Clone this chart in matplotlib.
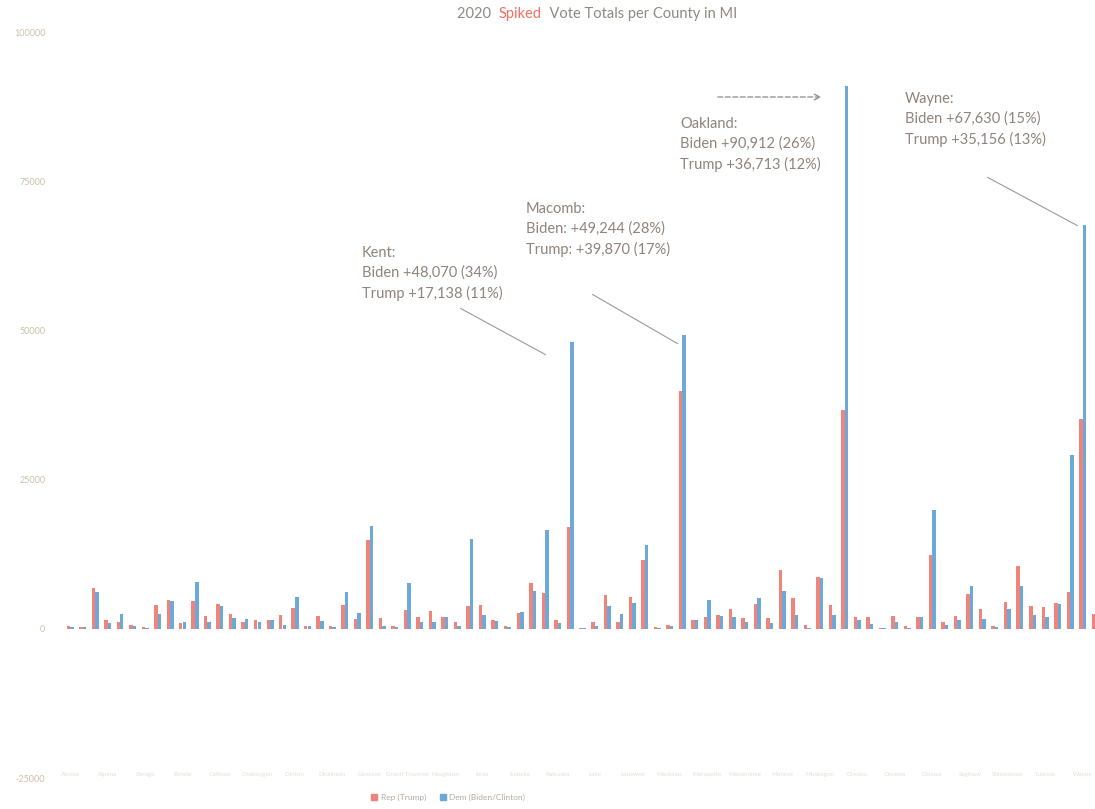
import numpy as np
import matplotlib
matplotlib.use("Agg")
import matplotlib.pyplot as plt
from matplotlib.lines import Line2D

# county order as in the source sheet
counties = ["Alcona", "Alger", "Allegan", "Alpena", "Antrim", "Arenac", "Baraga", "Barry",
            "Bay", "Benzie", "Berrien", "Branch", "Calhoun", "Cass", "Charlevoix", "Cheboygan",
            "Chippewa", "Clare", "Clinton", "Crawford", "Delta", "Dickinson", "Eaton", "Emmet",
            "Genesee", "Gladwin", "Gogebic", "Grand Traverse", "Gratiot", "Hillsdale", "Houghton",
            "Huron", "Ingham", "Ionia", "Iosco", "Iron", "Isabella", "Jackson", "Kalamazoo",
            "Kalkaska", "Kent", "Keweenaw", "Lake", "Lapeer", "Leelanau", "Lenawee", "Livingston",
            "Luce", "Mackinac", "Macomb", "Manistee", "Marquette", "Mason", "Mecosta", "Menominee",
            "Midland", "Missaukee", "Monroe", "Montcalm", "Montmorency", "Muskegon", "Newaygo",
            "Oakland", "Oceana", "Ogemaw", "Ontonagon", "Osceola", "Oscoda", "Otsego", "Ottawa",
            "Presque Isle", "Roscommon", "Saginaw", "Sanilac", "Schoolcraft", "Shiawassee",
            "St. Clair", "St. Joseph", "Tuscola", "Van Buren", "Washtenaw", "Wayne", "Wexford"]

rep_gain = [500, 350, 6900, 1400, 1200, 700, 300, 4000, 4750, 1000, 4600, 2100, 4100, 2450,
            1100, 1400, 1550, 2350, 3500, 550, 2100, 500, 4000, 1700, 14800, 1850, 400, 3070,
            2050, 2900, 1950, 1200, 3750, 4000, 1550, 400, 2650, 7700, 6000, 1550, 17138, 150,
            1100, 5700, 1200, 5300, 11450, 300, 700, 39870, 1550, 1950, 2250, 3350, 1800, 4200,
            1800, 9800, 5200, 600, 8700, 4000, 36713, 2050, 1950, 200, 2100, 500, 1950, 12300,
            1200, 2100, 5900, 3300, 400, 4500, 10600, 3800, 3650, 4350, 6250, 35156, 2400]

dem_gain = [300, 250, 6100, 1000, 2500, 400, 200, 2400, 4700, 1200, 7800, 1150, 3800, 1850,
            1700, 1200, 1400, 700, 5400, 500, 1250, 350, 6250, 2650, 17150, 550, 300, 7700,
            1200, 1200, 1900, 550, 15100, 2350, 1300, 300, 2800, 6300, 16500, 1000, 48070, 100,
            550, 3900, 2500, 4350, 14000, 150, 500, 49244, 1400, 4750, 2100, 1950, 1200, 5150,
            1000, 6400, 2250, 200, 8500, 2250, 90912, 1400, 850, 100, 1200, 200, 1950, 19850,
            650, 1550, 7100, 1700, 250, 3250, 7250, 2350, 1950, 4200, 29100, 67630, 1400]

yticks = [-25000, 0, 25000, 50000, 75000, 100000]

notes = {
    "Kent": "Kent:\nBiden +48,070 (34%)\nTrump +17,138 (11%)",
    "Macomb": "Macomb:\nBiden: +49,244 (28%)\nTrump: +39,870 (17%)",
    "Oakland": "Oakland:\nBiden +90,912 (26%)\nTrump +36,713 (12%)",
    "Wayne": "Wayne:\nBiden +67,630 (15%)\nTrump +35,156 (13%)",
}

plt.rcParams['font.family'] = ['Lato', 'DejaVu Sans']

red = '#f0837a'
blue = '#6ca8d8'
note_col = '#8f837c'

W, H = 1095, 809
fig = plt.figure(figsize=(W / 100, H / 100), dpi=100)
ax = fig.add_axes([55 / W, 1 - 778 / H, 1040 / W, (778 - 32) / H])

x = np.arange(len(counties))
bw = 0.28
ax.bar(x - bw / 2, rep_gain, bw, color=red, label='Rep (Trump)')
ax.bar(x + bw / 2, dem_gain, bw, color=blue, label='Dem (Biden/Clinton)')

ax.set_xlim(-1.2, 82.0)
ax.set_ylim(-25000, 100000)
ax.set_yticks(yticks)
ax.set_yticklabels([str(v) for v in yticks])
ax.tick_params(axis='y', length=0, labelsize=6.5, labelcolor='#cdc0aa', pad=7)
ax.set_xticks(x[::3])
ax.set_xticklabels(counties[::3], fontsize=4.5, color='#e4ded8')
ax.tick_params(axis='x', length=0, pad=-4)
for s in ax.spines.values():
    s.set_visible(False)

# title with the coloured word
t1 = ax.text(457 / W, 1 - 14 / H, "2020  ", transform=fig.transFigure, va='center',
             ha='left', fontsize=10.5, color='#8f8883')
t2 = ax.annotate("Spiked", xy=(1, 0), xycoords=t1, va='bottom', ha='left',
                 fontsize=10.5, color='#f2705f', annotation_clip=False)
ax.annotate("  Vote Totals per County in MI", xy=(1, 0), xycoords=t2, va='bottom',
            ha='left', fontsize=10.5, color='#8f8883', annotation_clip=False)

# callouts (figure pixel positions)
def fp(px, py):
    return (px, H - py)

text_pos = {"Kent": (362, 246), "Macomb": (526, 202), "Oakland": (680, 117), "Wayne": (905, 92)}
for name, (px, py) in text_pos.items():
    fig.text(px / W, 1 - py / H, notes[name], ha='left', va='top', fontsize=10.5,
             linespacing=1.5, color=note_col)

lines = [((458, 307), (548, 356)), ((590, 293), (680, 345)), ((985, 176), (1080, 227))]
for a, b in lines:
    ax.annotate('', xy=fp(*b), xycoords='figure pixels', xytext=fp(*a),
                textcoords='figure pixels',
                arrowprops=dict(arrowstyle='-', color='#9a9a9a', lw=0.8))
ax.annotate('', xy=fp(824, 97), xycoords='figure pixels', xytext=fp(715, 97),
            textcoords='figure pixels',
            arrowprops=dict(arrowstyle='->', color='#8a8a8a', lw=0.9, linestyle=(0, (4, 2))))

handles = [Line2D([], [], marker='s', linestyle='none', markersize=4.5, color=red),
           Line2D([], [], marker='s', linestyle='none', markersize=4.5, color=blue)]
fig.legend(handles, ['Rep (Trump)', 'Dem (Biden/Clinton)'], loc='center',
           bbox_to_anchor=(448 / W, 1 - 797 / H), ncol=2, frameon=False, fontsize=6,
           handlelength=0.8, handletextpad=0.4, columnspacing=1.6, labelcolor='#b3aaa3')

fig.savefig('out.png', dpi=100)
